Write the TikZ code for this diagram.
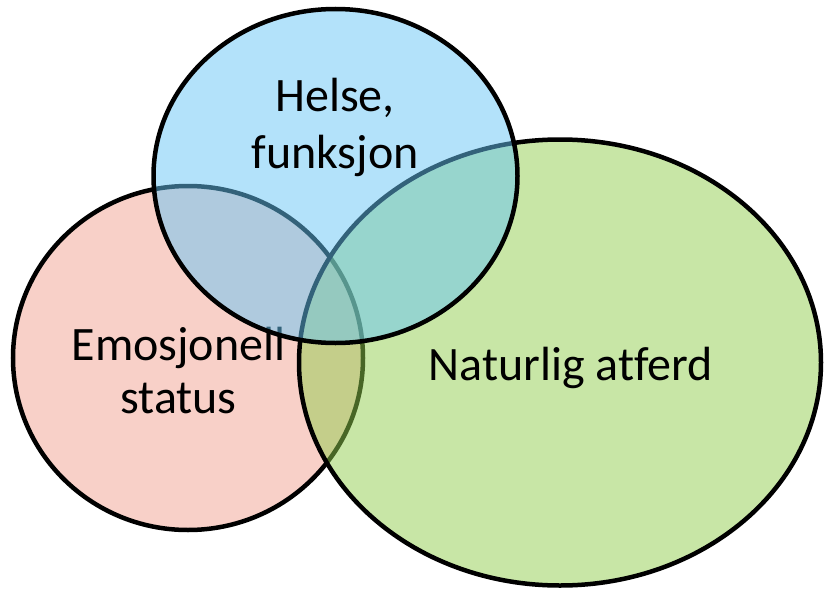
\documentclass[tikz,border=0pt]{standalone}
\usepackage{fontspec}
\setmainfont{Carlito}[Ligatures={NoCommon,NoRare}]
\definecolor{redbase}{RGB}{241,161,145}
\definecolor{bluebase}{RGB}{103,197,245}
\definecolor{greenbase}{RGB}{145,205,77}
\tikzset{
  venn/.style={draw=black, line width=4.5pt, fill opacity=0.5},
  lbl/.style={font=\fontsize{48}{57}\selectfont, text=black, align=center, inner sep=0pt}
}
\begin{document}
\begin{tikzpicture}[x=1pt,y=-1pt]
\useasboundingbox (0,0) rectangle (825,589);
% red circle
\draw[venn, fill=redbase] (188,358) ellipse [x radius=175, y radius=172];
\node[lbl, anchor=center] (emo) at (178.5,371) {Emosjonell\\[-4pt]status};
% green ellipse
\draw[venn, fill=greenbase] (560,362.5) ellipse [x radius=261, y radius=223];
% blue ellipse
\draw[venn, fill=bluebase] (335.5,176) ellipse [x radius=182, y radius=167];
\node[lbl, anchor=center] (helse) at (335,127) {Helse,\\funksjon};
\node[lbl, anchor=base] (nat) at (571,380) {Naturlig atferd};
\end{tikzpicture}
\end{document}
